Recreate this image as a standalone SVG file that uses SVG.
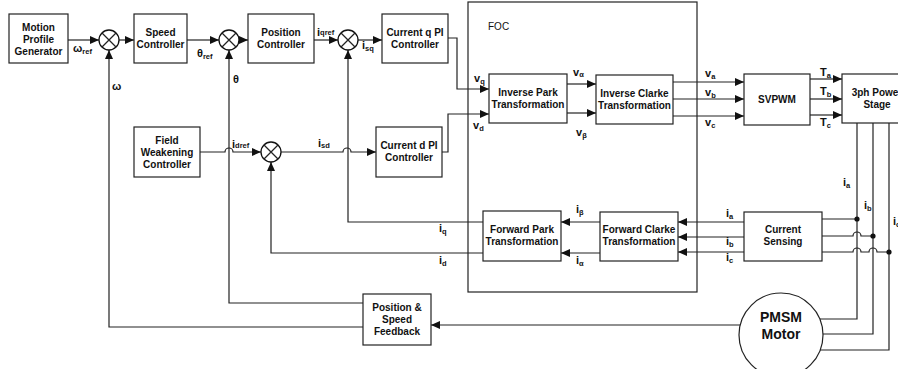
<svg xmlns="http://www.w3.org/2000/svg" width="898" height="369" viewBox="0 0 898 369">
<defs>
<style>
.bx{fill:#fff;stroke:#222;stroke-width:1.2}
.sm{fill:#fff;stroke:#111;stroke-width:1.3}
.ln{fill:none;stroke:#222;stroke-width:1.2}
.t{font-family:"Liberation Sans",Arial,sans-serif;font-size:10px;font-weight:bold;fill:#111;text-anchor:middle}
.lb{font-family:"Liberation Sans",Arial,sans-serif;font-size:11px;font-weight:bold;fill:#111}
.sub{font-size:7.5px}
.foc{font-family:"Liberation Sans",Arial,sans-serif;font-size:10px;fill:#111}
.big{font-family:"Liberation Sans",Arial,sans-serif;font-size:14px;font-weight:bold;fill:#111;text-anchor:middle}
</style>
<marker id="ah" markerUnits="userSpaceOnUse" markerWidth="9" markerHeight="8" refX="9" refY="4" orient="auto">
<path d="M0,0 L9,4 L0,8 z" fill="#111"/>
</marker>
</defs>
<rect width="898" height="369" fill="#fff"/>

<g id="foc"><rect x="468" y="2" width="229" height="290" class="bx" style="fill:none"/><text x="488" y="30" class="foc">FOC</text></g>

<g id="connectors">
<path class="ln" d="M68,40 H99" marker-end="url(#ah)"/>
<path class="ln" d="M119,40 H134" marker-end="url(#ah)"/>
<path class="ln" d="M187,40 H219" marker-end="url(#ah)"/>
<path class="ln" d="M239,40 H248" marker-end="url(#ah)"/>
<path class="ln" d="M314,40 H338" marker-end="url(#ah)"/>
<path class="ln" d="M358,40 H382" marker-end="url(#ah)"/>
<path class="ln" d="M448,38 H457 V89 H489" marker-end="url(#ah)"/>
<path class="ln" d="M442,152 H448 V114 H489" marker-end="url(#ah)"/>
<path class="ln" d="M567,84 H596" marker-end="url(#ah)"/>
<path class="ln" d="M567,113 H596" marker-end="url(#ah)"/>
<path class="ln" d="M673,82 H744" marker-end="url(#ah)"/>
<path class="ln" d="M673,99 H744" marker-end="url(#ah)"/>
<path class="ln" d="M673,116 H744" marker-end="url(#ah)"/>
<path class="ln" d="M810,79 H842" marker-end="url(#ah)"/>
<path class="ln" d="M810,99 H842" marker-end="url(#ah)"/>
<path class="ln" d="M810,115 H842" marker-end="url(#ah)"/>
<path class="ln" d="M857,123 V319 H820"/>
<path class="ln" d="M873,123 V334 H823"/>
<path class="ln" d="M889,123 V350 H820"/>
<path class="ln" d="M822,219 H857"/>
<path class="ln" d="M822,236 H853 a4,4 0 0 1 8,0 H873"/>
<path class="ln" d="M822,252 H853 a4,4 0 0 1 8,0 H869 a4,4 0 0 1 8,0 H889"/>
<circle cx="857" cy="219" r="2.6" fill="#111"/>
<circle cx="873" cy="236" r="2.6" fill="#111"/>
<circle cx="889" cy="252" r="2.6" fill="#111"/>
<path class="ln" d="M744,222 H678" marker-end="url(#ah)"/>
<path class="ln" d="M744,237 H678" marker-end="url(#ah)"/>
<path class="ln" d="M744,252 H678" marker-end="url(#ah)"/>
<path class="ln" d="M600,222 H561" marker-end="url(#ah)"/>
<path class="ln" d="M600,253 H561" marker-end="url(#ah)"/>
<path class="ln" d="M483,222 H348 V50" marker-end="url(#ah)"/>
<path class="ln" d="M483,253 H271 V162" marker-end="url(#ah)"/>
<path class="ln" d="M281,152 H343 a4,4 0 0 1 8,0 H376" marker-end="url(#ah)"/>
<path class="ln" d="M200,152 H225 a4,4 0 0 1 8,0 H261" marker-end="url(#ah)"/>
<path class="ln" d="M363,303 H229 V50" marker-end="url(#ah)"/>
<path class="ln" d="M363,327 H109 V50" marker-end="url(#ah)"/>
<path class="ln" d="M740,325 H431" marker-end="url(#ah)"/>
</g>

<g id="labels">
<text x="73" y="52" class="lb">ω<tspan class="sub" dy="2">ref</tspan></text>
<text x="197" y="57" class="lb">θ<tspan class="sub" dy="2">ref</tspan></text>
<text x="233" y="83" class="lb">θ</text>
<text x="112" y="90" class="lb">ω</text>
<text x="317" y="36" class="lb">i<tspan class="sub" dy="-1">qref</tspan></text>
<text x="362" y="49" class="lb">i<tspan class="sub" dy="2">sq</tspan></text>
<text x="474" y="82" class="lb">v<tspan class="sub" dy="2">q</tspan></text>
<text x="473" y="129" class="lb">v<tspan class="sub" dy="2">d</tspan></text>
<text x="573" y="76" class="lb">v<tspan class="sub" dy="1">α</tspan></text>
<text x="576" y="136" class="lb">v<tspan class="sub" dy="2">β</tspan></text>
<text x="705" y="77" class="lb">v<tspan class="sub" dy="2">a</tspan></text>
<text x="705" y="96" class="lb">v<tspan class="sub" dy="2">b</tspan></text>
<text x="705" y="126" class="lb">v<tspan class="sub" dy="2">c</tspan></text>
<text x="820" y="76" class="lb">T<tspan class="sub" dy="2">a</tspan></text>
<text x="820" y="95" class="lb">T<tspan class="sub" dy="2">b</tspan></text>
<text x="820" y="126" class="lb">T<tspan class="sub" dy="2">c</tspan></text>
<text x="232" y="148" class="lb">i<tspan class="sub" dy="0">dref</tspan></text>
<text x="318" y="147" class="lb">i<tspan class="sub" dy="1">sd</tspan></text>
<text x="439" y="232" class="lb">i<tspan class="sub" dy="2">q</tspan></text>
<text x="439" y="264" class="lb">i<tspan class="sub" dy="2">d</tspan></text>
<text x="576" y="213" class="lb">i<tspan class="sub" dy="2">β</tspan></text>
<text x="576" y="264" class="lb">i<tspan class="sub" dy="2">α</tspan></text>
<text x="726" y="217" class="lb">i<tspan class="sub" dy="2">a</tspan></text>
<text x="726" y="245" class="lb">i<tspan class="sub" dy="2">b</tspan></text>
<text x="726" y="261" class="lb">i<tspan class="sub" dy="2">c</tspan></text>
<text x="843" y="186" class="lb">i<tspan class="sub" dy="2">a</tspan></text>
<text x="864" y="209" class="lb">i<tspan class="sub" dy="2">b</tspan></text>
<text x="893" y="225" class="lb">i<tspan class="sub" dy="2">c</tspan></text>
</g>

<g id="mpg"><rect x="9" y="14" width="59" height="49" class="bx"/><text class="t"><tspan x="38.5" y="30.5">Motion</tspan><tspan x="38.5" y="42.5">Profile</tspan><tspan x="38.5" y="54.5">Generator</tspan></text></g>
<g id="sum1"><circle cx="109" cy="40" r="10" class="sm"/><path class="ln" d="M102,33 L116,47 M116,33 L102,47" style="stroke-width:1.3"/></g>
<g id="speed"><rect x="134" y="14" width="53" height="49" class="bx"/><text class="t"><tspan x="160.5" y="35.5">Speed</tspan><tspan x="160.5" y="47.5">Controller</tspan></text></g>
<g id="sum2"><circle cx="229" cy="40" r="10" class="sm"/><path class="ln" d="M222,33 L236,47 M236,33 L222,47" style="stroke-width:1.3"/></g>
<g id="position"><rect x="248" y="14" width="66" height="49" class="bx"/><text class="t"><tspan x="281" y="35.5">Position</tspan><tspan x="281" y="47.5">Controller</tspan></text></g>
<g id="sum3"><circle cx="348" cy="40" r="10" class="sm"/><path class="ln" d="M341,33 L355,47 M355,33 L341,47" style="stroke-width:1.3"/></g>
<g id="curq"><rect x="382" y="14" width="66" height="49" class="bx"/><text class="t"><tspan x="415" y="35.5">Current q PI</tspan><tspan x="415" y="47.5">Controller</tspan></text></g>
<g id="fw"><rect x="134" y="127" width="66" height="50" class="bx"/><text class="t"><tspan x="167" y="143.5">Field</tspan><tspan x="167" y="155.5">Weakening</tspan><tspan x="167" y="167.5">Controller</tspan></text></g>
<g id="sum4"><circle cx="271" cy="152" r="10" class="sm"/><path class="ln" d="M264,145 L278,159 M278,145 L264,159" style="stroke-width:1.3"/></g>
<g id="curd"><rect x="376" y="127" width="66" height="50" class="bx"/><text class="t"><tspan x="409" y="149">Current d PI</tspan><tspan x="409" y="161">Controller</tspan></text></g>
<g id="invpark"><rect x="489" y="74" width="78" height="49" class="bx"/><text class="t"><tspan x="528" y="96">Inverse Park</tspan><tspan x="528" y="108">Transformation</tspan></text></g>
<g id="invclarke"><rect x="596" y="75" width="77" height="49" class="bx"/><text class="t"><tspan x="634.5" y="97">Inverse Clarke</tspan><tspan x="634.5" y="109">Transformation</tspan></text></g>
<g id="svpwm"><rect x="744" y="74" width="66" height="51" class="bx"/><text class="t" x="777" y="103">SVPWM</text></g>
<g id="power"><rect x="842" y="74" width="70" height="49" class="bx"/><text class="t"><tspan x="877" y="96">3ph Power</tspan><tspan x="877" y="108">Stage</tspan></text></g>
<g id="fwdpark"><rect x="483" y="211" width="78" height="50" class="bx"/><text class="t"><tspan x="522" y="233">Forward Park</tspan><tspan x="522" y="245">Transformation</tspan></text></g>
<g id="fwdclarke"><rect x="600" y="212" width="78" height="49" class="bx"/><text class="t"><tspan x="639" y="233">Forward Clarke</tspan><tspan x="639" y="245">Transformation</tspan></text></g>
<g id="cursense"><rect x="744" y="212" width="78" height="49" class="bx"/><text class="t"><tspan x="783" y="233">Current</tspan><tspan x="783" y="245">Sensing</tspan></text></g>
<g id="posspeed"><rect x="363" y="294" width="68" height="51" class="bx"/><text class="t"><tspan x="397" y="311">Position &amp;</tspan><tspan x="397" y="323">Speed</tspan><tspan x="397" y="335">Feedback</tspan></text></g>
<g id="pmsm"><circle cx="781" cy="335" r="42" class="bx"/><text class="big"><tspan x="781" y="322">PMSM</tspan><tspan x="781" y="339">Motor</tspan></text></g>
</svg>
